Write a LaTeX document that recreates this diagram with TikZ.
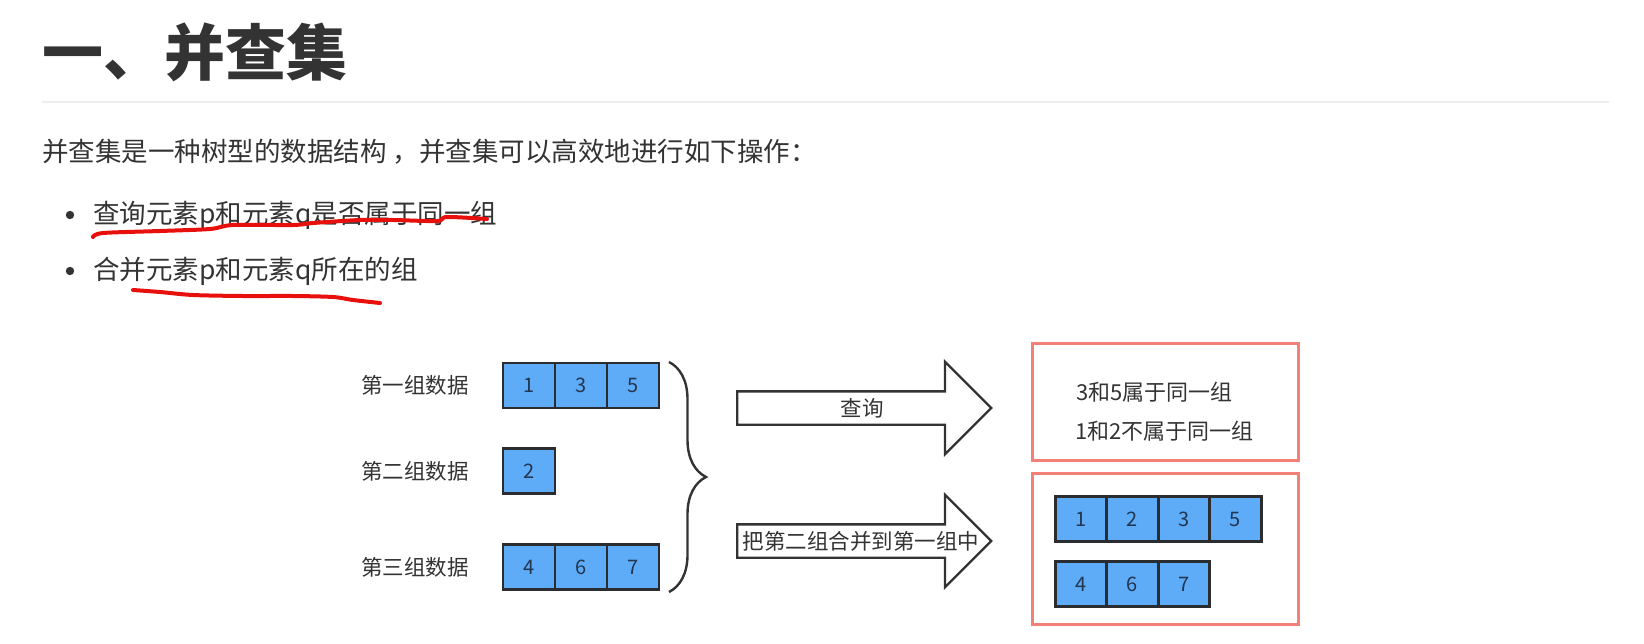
\documentclass[tikz,border=0pt]{standalone}
\usepackage{fontspec}
\setmainfont{Noto Sans CJK SC}
\usetikzlibrary{positioning, shapes.arrows, decorations.pathreplacing}
\definecolor{inkgray}{HTML}{333333}
\definecolor{rulegray}{HTML}{EEEEEE}
\definecolor{cellblue}{RGB}{94,171,247}
\definecolor{cellline}{HTML}{2A2C30}
\definecolor{celltext}{HTML}{22364F}
\definecolor{boxred}{RGB}{242,128,120}
\definecolor{penred}{RGB}{232,16,12}
\newcommand{\fsz}[1]{\fontsize{#1}{1.2\dimexpr #1pt\relax}\selectfont}

\begin{document}
\begin{tikzpicture}[x=0.5pt, y=-0.5pt, node distance=0pt,
	cell/.style={draw=cellline, fill=cellblue, line width=1.4pt, minimum width=26pt, minimum height=22.5pt, inner sep=0pt, outer sep=0pt, text=celltext, font=\fsz{10}},
	grouplabel/.style={text=inkgray, inner sep=0pt, font=\fsz{10.75}},
	bigarrow/.style={single arrow, draw=inkgray, line width=1.2pt, minimum height=127pt, inner xsep=0pt, inner ysep=7.75pt, single arrow head extend=14.75pt, anchor=tail},
	resultbox/.style={draw=boxred, line width=1.5pt, minimum width=133pt, inner sep=0pt},
	plain/.style={text=inkgray, inner sep=0pt, anchor=west, font=\fsz{13.25}},
	pen/.style={draw=penred, line width=2pt, line cap=round, line join=round}]
	\useasboundingbox (0,0) rectangle (1644,643);

	% heading
	\node[plain, font=\fsz{30.5}\bfseries] (title) at (42,52) {一、并查集};
	\draw[rulegray, line width=1pt] (42,102) -- (1609,102);
	\node[plain] (intro) at (42,152) {并查集是一种树型的数据结构 ，并查集可以高效地进行如下操作：};
	\node[plain] (op1) at (93,215) {查询元素p和元素q是否属于同一组};
	\node[plain] (op2) at (93,271) {合并元素p和元素q所在的组};
	\fill[inkgray] (70,215) circle (2.1pt);
	\fill[inkgray] (70,271) circle (2.1pt);
	\draw[pen] plot[smooth, tension=0.5] coordinates {(93,237) (103,233) (160,231) (210,229) (233,225) (293,225) (313,223) (360,220) (393,220) (437,221) (447,217) (487,219)};
	\draw[pen] plot[smooth, tension=0.5] coordinates {(133,290) (160,292) (193,295) (243,296) (293,296) (333,297) (353,300) (380,303)};

	% groups
	\node[cell] (a1) at (529,385.5) {1};
	\node[cell, right=of a1] (a3) {3};
	\node[cell, right=of a3] (a5) {5};
	\node[cell] (b2) at (529,471) {2};
	\node[cell] (c4) at (529,567) {4};
	\node[cell, right=of c4] (c6) {6};
	\node[cell, right=of c6] (c7) {7};
	\node[grouplabel, left=17pt of a1] (g1) {第一组数据};
	\node[grouplabel, left=17pt of b2] (g2) {第二组数据};
	\node[grouplabel, left=17pt of c4] (g3) {第三组数据};

	\coordinate (bt) at (669,362);
	\coordinate (bb) at (669,592);
	\draw[inkgray, line width=1.2pt, decorate, decoration={brace, amplitude=18.5pt}] (bt) -- (bb);

	% operations
	\node[bigarrow] (find) at (736,408) {};
	\node[grouplabel] (findtxt) at (862,408) {查询};
	\node[bigarrow] (merge) at (736,541) {};
	\node[grouplabel] (mergetxt) at (861,541) {把第二组合并到第一组中};

	% results
	\node[resultbox, minimum height=58.5pt] (res1) at (1165.5,402) {};
	\node[resultbox, minimum height=75.5pt] (res2) at (1165.5,549) {};
	\node[plain, font=\fsz{11}] (same) at (1076,392) {3和5属于同一组};
	\node[plain, font=\fsz{11}] (diff) at (1075,431) {1和2不属于同一组};
	\node[cell, minimum width=25.75pt] (m1) at (1081,519) {1};
	\node[cell, minimum width=25.75pt, right=of m1] (m2) {2};
	\node[cell, minimum width=25.75pt, right=of m2] (m3) {3};
	\node[cell, minimum width=25.75pt, right=of m3] (m5) {5};
	\node[cell, minimum width=25.75pt] (n4) at (1081,584) {4};
	\node[cell, minimum width=25.75pt, right=of n4] (n6) {6};
	\node[cell, minimum width=25.75pt, right=of n6] (n7) {7};
\end{tikzpicture}
\end{document}
